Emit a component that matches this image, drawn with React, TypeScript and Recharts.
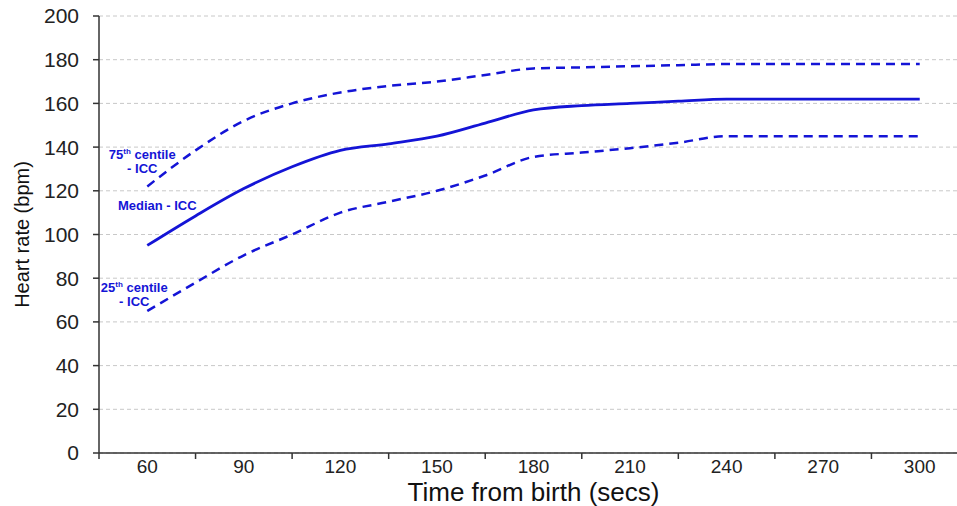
import React from 'react';
import { LineChart, Line, XAxis, YAxis, CartesianGrid } from 'recharts';

const TIMES = [60, 75, 90, 105, 120, 135, 150, 165, 180, 195, 210, 225, 240, 255, 270, 285, 300];
const MEDIAN = [95, 108.5, 121, 131, 138.5, 141.5, 145, 151, 157, 159, 160, 161, 162, 162, 162, 162, 162];
const P75 = [122, 138.5, 152, 160, 165, 168, 170, 173, 176, 176.5, 177, 177.5, 178, 178, 178, 178, 178];
const P25 = [65, 78, 90.5, 100, 110, 115, 120, 127, 135.5, 137.5, 139.5, 142, 145, 145, 145, 145, 145];

const X_TICKS = [60, 90, 120, 150, 180, 210, 240, 270, 300];
const Y_TICKS = [0, 20, 40, 60, 80, 100, 120, 140, 160, 180, 200];
const X_DOMAIN: [number, number] = [45, 315];
const X_STEP = 30;

const data = TIMES.map((t, i) => ({ t, median: MEDIAN[i], p75: P75[i], p25: P25[i] }));

const BLUE = '#1414d6';
const FONT = '"Liberation Sans", Arial, sans-serif';

// label + tick mark half a step to the left (ticks sit between labels)
const XTick = (props: any) => {
  const { x, y, width, payload } = props;
  const half = (width * X_STEP) / 2 / (X_DOMAIN[1] - X_DOMAIN[0]);
  const axisY = y - 8;
  return (
    <g>
      <line x1={x - half} x2={x - half} y1={axisY} y2={axisY + 6} stroke="#333" strokeWidth={1.5} />
      <text x={x} y={axisY + 20} textAnchor="middle" fontSize={19} fill="#222" fontFamily={FONT}>
        {payload.value}
      </text>
    </g>
  );
};

const YTitle = (props: any) => {
  const { viewBox } = props;
  const cx = 22;
  const cy = viewBox.y + viewBox.height / 2;
  return (
    <text x={cx} y={cy} transform={`rotate(-90 ${cx} ${cy})`} textAnchor="middle" dominantBaseline="central"
      fontSize={20} fill="#111" fontFamily={FONT}>
      Heart rate (bpm)
    </text>
  );
};

const seriesLabel = (kind: 'p75' | 'median' | 'p25') => (props: any) => {
  const { x, y, index } = props;
  if (index !== 0) return null;
  const common = { fill: BLUE, fontSize: 13, fontWeight: 'bold' as const, fontFamily: FONT, textAnchor: 'middle' as const };
  if (kind === 'median') {
    return <text x={x + 10} y={y - 35} {...common}>Median - ICC</text>;
  }
  const sup = kind === 'p75' ? '75' : '25';
  const dx = kind === 'p75' ? -5 : -13;
  const dy = kind === 'p75' ? -27 : -19;
  return (
    <g>
      <text x={x + dx} y={y + dy} {...common}>
        {sup}<tspan fontSize={8} dy={-5}>th</tspan><tspan dy={5}> centile</tspan>
      </text>
      <text x={x + dx} y={y + dy + 14} {...common}>- ICC</text>
    </g>
  );
};

export default function App() {
  return (
    <div style={{ position: 'absolute', left: 0, top: 0, width: 957, height: 506, overflow: 'hidden', background: '#fff' }}>
      <LineChart width={982} height={506} data={data} margin={{ top: 16, right: 14, left: 0, bottom: 0 }}>
        <CartesianGrid horizontal vertical={false} stroke="#c8c8c8" strokeDasharray="4 3" />
        <XAxis
          dataKey="t"
          type="number"
          domain={X_DOMAIN}
          ticks={X_TICKS}
          height={53}
          tickLine={false}
          axisLine={{ stroke: '#333', strokeWidth: 1.5 }}
          tick={<XTick />}
          label={{ value: 'Time from birth (secs)', position: 'insideBottom', offset: 5, fontSize: 26, fill: '#111', fontFamily: FONT }}
        />
        <YAxis
          type="number"
          domain={[0, 200]}
          ticks={Y_TICKS}
          width={99}
          tickSize={6}
          tickMargin={14}
          axisLine={{ stroke: '#333', strokeWidth: 1.5 }}
          tickLine={{ stroke: '#333', strokeWidth: 1.5 }}
          tick={{ fontSize: 21, fill: '#222', fontFamily: FONT }}
          label={<YTitle />}
        />
        <Line type="monotone" dataKey="p75" stroke={BLUE} strokeWidth={2.5} strokeDasharray="9 6" dot={false}
          isAnimationActive={false} label={seriesLabel('p75')} />
        <Line type="monotone" dataKey="median" stroke={BLUE} strokeWidth={2.8} dot={false}
          isAnimationActive={false} label={seriesLabel('median')} />
        <Line type="monotone" dataKey="p25" stroke={BLUE} strokeWidth={2.5} strokeDasharray="9 6" dot={false}
          isAnimationActive={false} label={seriesLabel('p25')} />
      </LineChart>
    </div>
  );
}
